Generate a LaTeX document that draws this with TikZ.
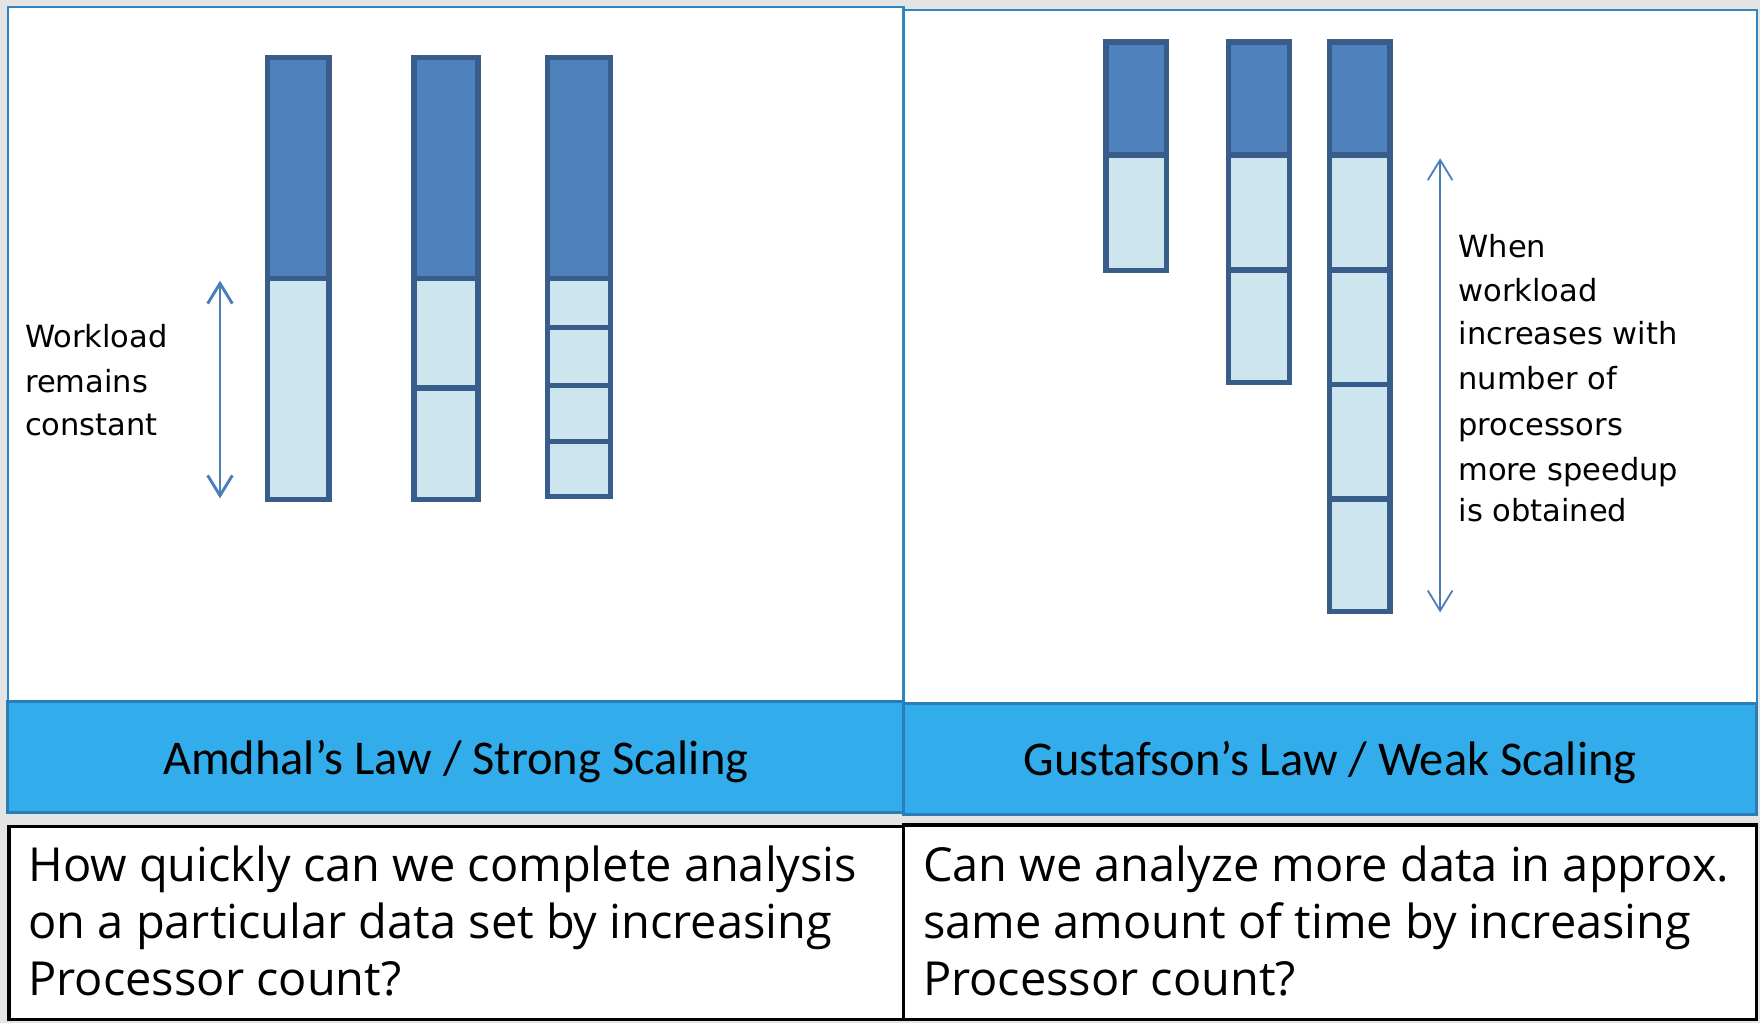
\documentclass[tikz,border=0pt]{standalone}
\usepackage{fontspec}
\setmainfont{Open Sans}
\newfontfamily\bandfont{Carlito}
\newfontfamily\notefont{DejaVu Sans}
\newfontfamily\qfont{Open Sans}
\usetikzlibrary{arrows.meta}
\definecolor{barDark}{HTML}{4F81BD}
\definecolor{barEdge}{HTML}{385D8A}
\definecolor{barLight}{HTML}{CDE5EF}
\definecolor{bandBlue}{HTML}{32ACEA}
\definecolor{bandEdge}{HTML}{2A7DB5}
\definecolor{panelEdge}{HTML}{2E86C1}
\definecolor{bgGray}{HTML}{E4E4E4}
\definecolor{arrowBlue}{HTML}{4A7EBB}
\tikzset{
  darkseg/.style={fill=barDark, draw=barEdge, line width=2.4pt},
  lightseg/.style={fill=barLight, draw=barEdge, line width=2.4pt},
  panel/.style={fill=white, draw=panelEdge, line width=1pt},
  bandbox/.style={fill=bandBlue, draw=bandEdge, line width=1.3pt},
  qbox/.style={fill=white, draw=black, line width=1.4pt},
  bandtext/.style={font=\bandfont\fontsize{21.6}{26}\selectfont, anchor=base, inner sep=0pt},
  qtext/.style={font=\qfont\fontsize{20.9}{25}\selectfont, anchor=base west, inner sep=0pt},
  notetext/.style={font=\notefont\fontsize{13.6}{19.6}\selectfont, anchor=base west, inner sep=0pt, text=black},
  warrow/.style={draw=arrowBlue, {Straight Barb[length=9pt,width=11pt]}-{Straight Barb[length=9pt,width=11pt]}}
}
\begin{document}
\begin{tikzpicture}[x=0.5pt,y=-0.5pt]
\fill[bgGray] (0,0) rectangle (1568,911);
\useasboundingbox (0,0) rectangle (1568,911);

% panels
\draw[panel] (7,6) rectangle (805,625);
\draw[panel] (805,9) rectangle (1565,627);

% blue bands
\draw[bandbox] (7,625) rectangle (805,724);
\draw[bandbox] (805,627) rectangle (1565,726);
\node[bandtext] (bandL) at (406,690) {Amdhal’s Law / Strong Scaling};
\node[bandtext] (bandR) at (1185,691) {Gustafson’s Law / Weak Scaling};

% question boxes
\draw[qbox] (8,736) rectangle (805,908);
\draw[qbox] (805,735) rectangle (1565,908);
\node[qtext] (qL1) at (25,785.5) {How quickly can we complete analysis};
\node[qtext] (qL2) at (25,836) {on a particular data set by increasing};
\node[qtext] (qL3) at (25,886.5) {Processor count?};
\node[qtext] (qR1) at (822,785.5) {Can we analyze more data in approx.};
\node[qtext] (qR2) at (822,836) {same amount of time by increasing};
\node[qtext] (qR3) at (822,886.5) {Processor count?};

% left bars (strong scaling)
\draw[darkseg]  (238.3,51) rectangle (293.2,248);
\draw[lightseg] (238.3,248) rectangle (293.2,445);

\draw[darkseg]  (369,51) rectangle (425.8,248);
\draw[lightseg] (369,248) rectangle (425.8,345.5);
\draw[lightseg] (369,345.5) rectangle (425.8,445);

\draw[darkseg]  (487.8,51) rectangle (543.8,248);
\draw[lightseg] (487.8,248) rectangle (543.8,292);
\draw[lightseg] (487.8,292) rectangle (543.8,343.6);
\draw[lightseg] (487.8,343.6) rectangle (543.8,393.5);
\draw[lightseg] (487.8,393.5) rectangle (543.8,442.4);

% right bars (weak scaling)
\draw[darkseg]  (985.2,37.5) rectangle (1039.3,138);
\draw[lightseg] (985.2,138) rectangle (1039.3,240.8);

\draw[darkseg]  (1094.7,37.5) rectangle (1148.8,138);
\draw[lightseg] (1094.7,138) rectangle (1148.8,240.7);
\draw[lightseg] (1094.7,240.7) rectangle (1148.8,340.8);

\draw[darkseg]  (1184.7,37.5) rectangle (1238.3,138);
\draw[lightseg] (1184.7,138) rectangle (1238.3,240.6);
\draw[lightseg] (1184.7,240.6) rectangle (1238.3,342.6);
\draw[lightseg] (1184.7,342.6) rectangle (1238.3,444.4);
\draw[lightseg] (1184.7,444.4) rectangle (1238.3,544.8);

% arrows
\coordinate (laTop) at (196,250);
\coordinate (laBot) at (196,444);
\draw[warrow, line width=1.3pt] (laTop) -- (laBot);
\coordinate (raTop) at (1283,141);
\coordinate (raBot) at (1283,545.6);
\draw[warrow, line width=0.8pt] (raTop) -- (raBot);

% notes
\node[notetext] (nL1) at (22,310) {Workload};
\node[notetext] (nL2) at (22,350) {remains};
\node[notetext] (nL3) at (22,388) {constant};

\node[notetext] (nR1) at (1299,229) {When};
\node[notetext] (nR2) at (1299,269) {workload};
\node[notetext] (nR3) at (1299,307) {increases with};
\node[notetext] (nR4) at (1299,347) {number of};
\node[notetext] (nR5) at (1299,388) {processors};
\node[notetext] (nR6) at (1299,428) {more speedup};
\node[notetext] (nR7) at (1299,465) {is obtained};
\end{tikzpicture}
\end{document}
